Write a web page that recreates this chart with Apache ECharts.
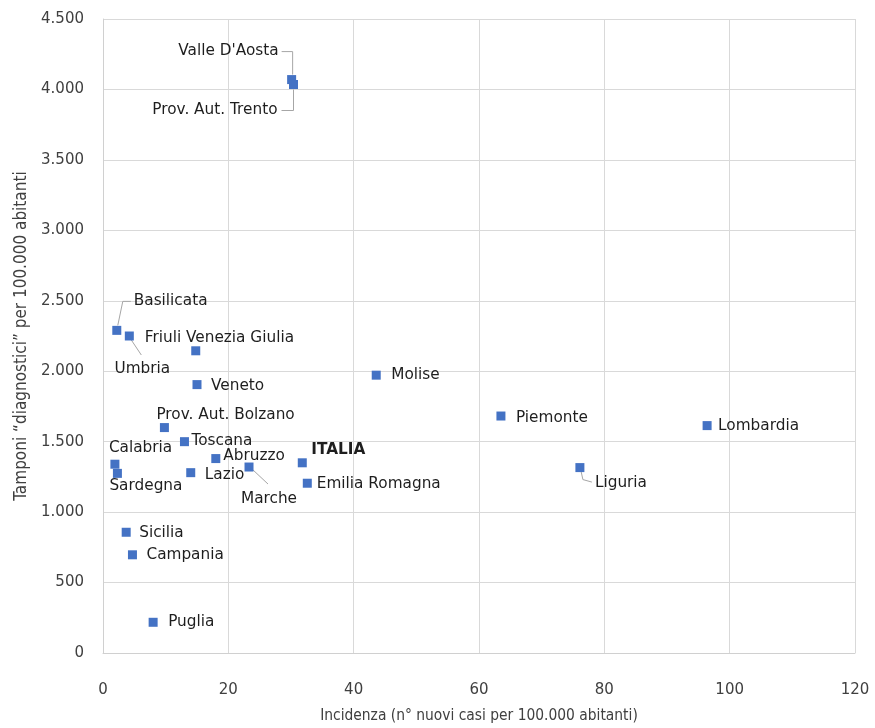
<!DOCTYPE html>
<html><head><meta charset="utf-8">
<script src="https://cdn.jsdelivr.net/npm/echarts@6/dist/echarts.min.js"></script>
<style>html,body{margin:0;padding:0;background:#fff}#c{width:875px;height:728px}</style>
</head><body><div id="c"></div>
<script>
// ---- data ----
const regions = ["Valle D'Aosta","Prov. Aut. Trento","Basilicata","Umbria","Friuli Venezia Giulia","Veneto","Prov. Aut. Bolzano","Toscana","Calabria","Sardegna","Abruzzo","Lazio","Marche","ITALIA","Emilia Romagna","Molise","Piemonte","Lombardia","Liguria","Sicilia","Campania","Puglia"];
const incidenza = [30.1, 30.4, 2.2, 4.2, 14.8, 15.0, 9.8, 13.0, 1.9, 2.3, 18.0, 14.0, 23.3, 31.8, 32.6, 43.6, 63.5, 96.4, 76.1, 3.7, 4.7, 8.0];
const tamponi = [4070, 4035, 2290, 2250, 2145, 1905, 1600, 1500, 1340, 1275, 1380, 1280, 1320, 1350, 1205, 1972, 1682, 1614, 1316, 857, 697, 218];
const xTicks = [0, 20, 40, 60, 80, 100, 120];
const yTicks = [0, 500, 1000, 1500, 2000, 2500, 3000, 3500, 4000, 4500];
const xTitle = "Incidenza (n° nuovi casi per 100.000 abitanti)";
const yTitle = "Tamponi “diagnostici” per 100.000 abitanti";

// ---- label placement (pixel offsets from the marker centre; styling only) ----
const placement = {
  "Valle D'Aosta": {dx:-13, dy:-29, align:'right', line:[[-10,-28],[1,-28],[1,-5]]},
  "Prov. Aut. Trento": {dx:-16, dy:26, align:'right', line:[[-12,26],[0,26],[0,5]]},
  "Basilicata": {dx:17, dy:-29, align:'left', line:[[14,-29],[6,-29],[1,-5]]},
  "Umbria": {dx:13, dy:33, align:'center', line:[[2,4],[12,19]]},
  "Friuli Venezia Giulia": {dx:-51, dy:-13, align:'left'},
  "Veneto": {dx:14, dy:1, align:'left'},
  "Prov. Aut. Bolzano": {dx:-8, dy:-13, align:'left'},
  "Toscana": {dx:7, dy:-1, align:'left'},
  "Calabria": {dx:-6, dy:-16, align:'left'},
  "Sardegna": {dx:-8, dy:13, align:'left'},
  "Abruzzo": {dx:7.5, dy:-3, align:'left'},
  "Lazio": {dx:14, dy:2, align:'left'},
  "Marche": {dx:20, dy:32, align:'center', line:[[3,2],[19,17]]},
  "ITALIA": {dx:9, dy:-13, align:'left', bold:true},
  "Emilia Romagna": {dx:9.5, dy:1, align:'left'},
  "Molise": {dx:15, dy:0, align:'left'},
  "Piemonte": {dx:15, dy:2, align:'left'},
  "Lombardia": {dx:11, dy:0, align:'left'},
  "Liguria": {dx:15, dy:15, align:'left', line:[[1,3],[3,12],[12,14.5]]},
  "Sicilia": {dx:13, dy:1, align:'left'},
  "Campania": {dx:14, dy:0, align:'left'},
  "Puglia": {dx:15, dy:0, align:'left'}
};

const seriesData = regions.map((n, i) => ({
  name: n,
  value: [incidenza[i], tamponi[i]],
  label: {fontWeight: placement[n].bold ? 'bold' : 'normal'}
}));
const leaderData = [];
regions.forEach((n, i) => { if (placement[n].line) leaderData.push([incidenza[i], tamponi[i], i]); });

const fmtY = v => v >= 1000 ? Math.floor(v/1000) + '.' + String(v % 1000).padStart(3, '0') : String(v);

const chart = echarts.init(document.getElementById('c'), null, {renderer: 'canvas'});
chart.setOption({
  animation: false,
  backgroundColor: '#ffffff',
  grid: {left: 103, right: 20, top: 19, bottom: 74, containLabel: false},
  xAxis: {
    type: 'value', min: xTicks[0], max: xTicks[xTicks.length-1], interval: xTicks[1]-xTicks[0],
    name: xTitle, nameLocation: 'middle', nameGap: 55,
    nameTextStyle: {fontFamily: 'DejaVu Sans Condensed, DejaVu Sans', fontSize: 15.4, color: '#404040'},
    axisLine: {show: true, lineStyle: {color: '#d0d0d0', width: 1}},
    axisTick: {show: false},
    axisLabel: {margin: 30, fontFamily: 'DejaVu Sans', fontSize: 15, color: '#404040'},
    splitLine: {show: true, lineStyle: {color: '#d9d9d9', width: 1}}
  },
  yAxis: {
    type: 'value', min: yTicks[0], max: yTicks[yTicks.length-1], interval: yTicks[1]-yTicks[0],
    name: yTitle, nameLocation: 'middle', nameGap: 71, nameRotate: 90,
    nameTextStyle: {fontFamily: 'DejaVu Sans Condensed, DejaVu Sans', fontSize: 17, color: '#404040'},
    axisLine: {show: true, lineStyle: {color: '#d0d0d0', width: 1}},
    axisTick: {show: false},
    axisLabel: {margin: 19, fontFamily: 'DejaVu Sans', fontSize: 15, color: '#404040', formatter: fmtY},
    splitLine: {show: true, lineStyle: {color: '#d9d9d9', width: 1}}
  },
  series: [{
    type: 'custom',
    z: 1,
    silent: true,
    data: leaderData,
    renderItem: function (params, api) {
      const c = api.coord([api.value(0), api.value(1)]);
      const pl = placement[regions[api.value(2)]].line;
      return {
        type: 'polyline',
        shape: {points: pl.map(q => [c[0] + q[0], c[1] + q[1]])},
        style: {stroke: '#a6a6a6', lineWidth: 1, fill: null}
      };
    }
  }, {
    type: 'scatter',
    z: 3,
    symbol: 'rect',
    symbolSize: 9,
    itemStyle: {color: '#4472C4', opacity: 1},
    data: seriesData,
    label: {
      show: true, position: 'right',
      formatter: p => p.name,
      fontFamily: 'DejaVu Sans', fontSize: 15.3, color: '#1e1e1e'
    },
    labelLayout: function (params) {
      const p = placement[regions[params.dataIndex]];
      const cx = params.rect.x + params.rect.width / 2;
      const cy = params.rect.y + params.rect.height / 2;
      return {x: cx + p.dx, y: cy + p.dy, align: p.align, verticalAlign: 'middle'};
    },
    emphasis: {disabled: true}
  }]
});
</script>
</body></html>
